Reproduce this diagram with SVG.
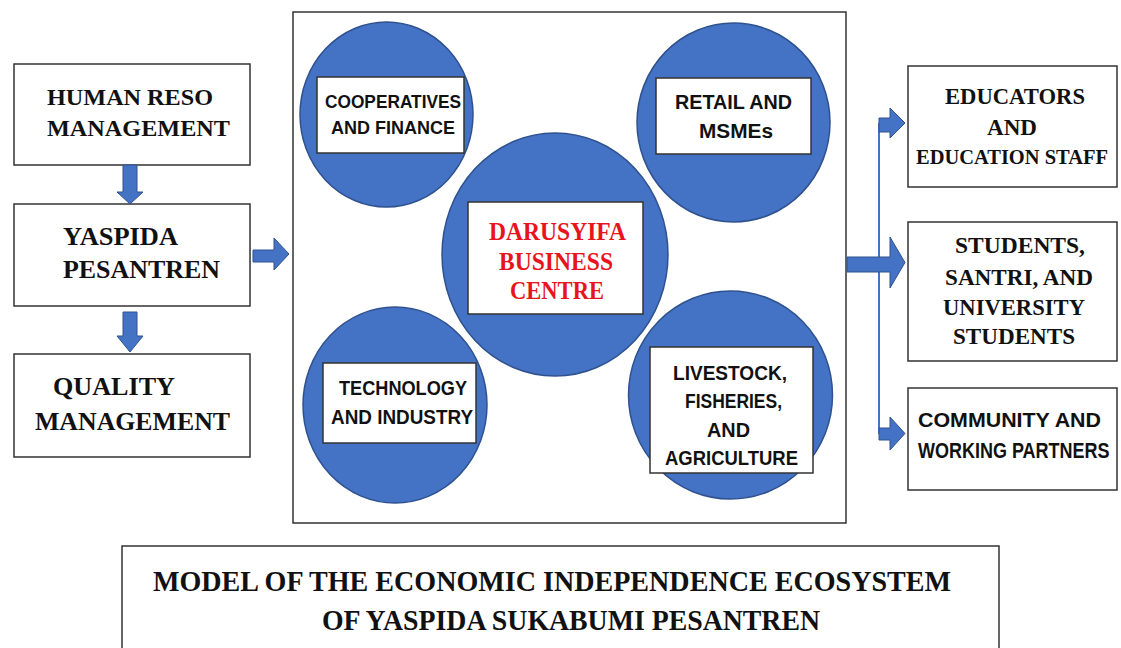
<svg xmlns="http://www.w3.org/2000/svg" width="1121" height="648" viewBox="0 0 1121 648">
<style>
.box{fill:#fff;stroke:#333;stroke-width:1.5}
.circ{fill:#4472C4;stroke:#2F528F;stroke-width:1.5}
.arr{fill:#4472C4;stroke:#2F528F;stroke-width:1}
.serif{font-family:"Liberation Serif","Times New Roman",serif;font-weight:bold;fill:#111}
.sans{font-family:"Liberation Sans",Arial,sans-serif;font-weight:bold;fill:#111}
.red{fill:#E8141B}
</style>
<rect width="1121" height="648" fill="#fff"/>

<g id="frame"><rect class="box" x="293" y="12" width="553" height="511"/></g>

<g id="hrm">
<rect class="box" x="14" y="64" width="236" height="101"/>
<text class="serif" font-size="24" x="47" y="105" textLength="166" lengthAdjust="spacingAndGlyphs">HUMAN RESO</text>
<text class="serif" font-size="24" x="47" y="136" textLength="183" lengthAdjust="spacingAndGlyphs">MANAGEMENT</text>
</g>
<g id="yaspida">
<rect class="box" x="14" y="204" width="236" height="102"/>
<text class="serif" font-size="26" x="63" y="245" textLength="115" lengthAdjust="spacingAndGlyphs">YASPIDA</text>
<text class="serif" font-size="26" x="63" y="278" textLength="157" lengthAdjust="spacingAndGlyphs">PESANTREN</text>
</g>
<g id="quality">
<rect class="box" x="14" y="354" width="236" height="103"/>
<text class="serif" font-size="26" x="53" y="395" textLength="122" lengthAdjust="spacingAndGlyphs">QUALITY</text>
<text class="serif" font-size="26" x="35" y="430" textLength="195" lengthAdjust="spacingAndGlyphs">MANAGEMENT</text>
</g>

<g id="coop">
<ellipse class="circ" cx="386.5" cy="114.5" rx="86.5" ry="92.5"/>
<rect class="box" x="317" y="77" width="147" height="76"/>
<text class="sans" font-size="19" x="325" y="108" textLength="136" lengthAdjust="spacingAndGlyphs">COOPERATIVES</text>
<text class="sans" font-size="19" x="331" y="134" textLength="124" lengthAdjust="spacingAndGlyphs">AND FINANCE</text>
</g>
<g id="retail">
<ellipse class="circ" cx="733.5" cy="122.5" rx="96.5" ry="99.5"/>
<rect class="box" x="656" y="78" width="155" height="76"/>
<text class="sans" font-size="20" x="675" y="109" textLength="117" lengthAdjust="spacingAndGlyphs">RETAIL AND</text>
<text class="sans" font-size="20" x="699" y="138" textLength="74" lengthAdjust="spacingAndGlyphs">MSMEs</text>
</g>
<g id="tech">
<ellipse class="circ" cx="395" cy="405" rx="92" ry="98"/>
<rect class="box" x="323" y="363" width="153" height="80"/>
<text class="sans" font-size="20" x="339" y="395" textLength="128" lengthAdjust="spacingAndGlyphs">TECHNOLOGY</text>
<text class="sans" font-size="20" x="331" y="424" textLength="142" lengthAdjust="spacingAndGlyphs">AND INDUSTRY</text>
</g>
<g id="livestock">
<ellipse class="circ" cx="730.5" cy="395" rx="102" ry="104"/>
<rect class="box" x="650" y="347" width="163" height="126"/>
<text class="sans" font-size="20" x="673" y="380" textLength="114" lengthAdjust="spacingAndGlyphs">LIVESTOCK,</text>
<text class="sans" font-size="20" x="685" y="408" textLength="97" lengthAdjust="spacingAndGlyphs">FISHERIES,</text>
<text class="sans" font-size="20" x="707" y="437" textLength="43" lengthAdjust="spacingAndGlyphs">AND</text>
<text class="sans" font-size="20" x="665" y="465" textLength="133" lengthAdjust="spacingAndGlyphs">AGRICULTURE</text>
</g>
<g id="darusyifa">
<ellipse class="circ" cx="555" cy="254.5" rx="113" ry="121.5"/>
<rect class="box" x="468" y="202" width="175" height="112"/>
<text class="serif red" font-size="26" x="489" y="240" textLength="137" lengthAdjust="spacingAndGlyphs">DARUSYIFA</text>
<text class="serif red" font-size="26" x="499" y="270" textLength="114" lengthAdjust="spacingAndGlyphs">BUSINESS</text>
<text class="serif red" font-size="26" x="510" y="299" textLength="94" lengthAdjust="spacingAndGlyphs">CENTRE</text>
</g>

<g id="educators">
<rect class="box" x="908" y="66" width="209" height="121"/>
<text class="serif" font-size="23" x="945" y="104" textLength="140" lengthAdjust="spacingAndGlyphs">EDUCATORS</text>
<text class="serif" font-size="23" x="987" y="135" textLength="50" lengthAdjust="spacingAndGlyphs">AND</text>
<text class="serif" font-size="22" x="916" y="164" textLength="192" lengthAdjust="spacingAndGlyphs">EDUCATION STAFF</text>
</g>
<g id="students">
<rect class="box" x="908" y="222" width="209" height="139"/>
<text class="serif" font-size="23" x="955" y="253" textLength="130" lengthAdjust="spacingAndGlyphs">STUDENTS,</text>
<text class="serif" font-size="23" x="945" y="285" textLength="148" lengthAdjust="spacingAndGlyphs">SANTRI, AND</text>
<text class="serif" font-size="23" x="943" y="315" textLength="142" lengthAdjust="spacingAndGlyphs">UNIVERSITY</text>
<text class="serif" font-size="23" x="953" y="344" textLength="122" lengthAdjust="spacingAndGlyphs">STUDENTS</text>
</g>
<g id="community">
<rect class="box" x="908" y="388" width="209" height="102"/>
<text class="sans" font-size="21" x="918" y="427" textLength="183" lengthAdjust="spacingAndGlyphs">COMMUNITY AND</text>
<text class="sans" font-size="18" transform="translate(918,458) scale(1,1.2)" x="0" y="0">WORKING PARTNERS</text>
</g>

<g id="title">
<rect class="box" x="122" y="546" width="877" height="120"/>
<text class="serif" font-size="30" x="153" y="591" textLength="798" lengthAdjust="spacingAndGlyphs">MODEL OF THE ECONOMIC INDEPENDENCE ECOSYSTEM</text>
<text class="serif" font-size="30" x="322" y="630" textLength="498" lengthAdjust="spacingAndGlyphs">OF YASPIDA SUKABUMI PESANTREN</text>
</g>

<g id="connectors">
<polygon class="arr" points="123,165 137,165 137,192 143,192 130,204 117,192 123,192"/>
<polygon class="arr" points="123,312 137,312 137,336 143,336 130,352 117,336 123,336"/>
<polygon class="arr" points="253,250 274,250 274,238 289,254 274,270 274,262 253,262"/>
<line x1="879" y1="123" x2="879" y2="434" stroke="#4472C4" stroke-width="2"/>
<polygon class="arr" points="847,257 890,257 890,237 905,262.5 890,288 890,272 847,272"/>
<polygon class="arr" points="879,118 890,118 890,108 905,123 890,138 890,132 879,132"/>
<polygon class="arr" points="879,428 890,428 890,417 905,433.5 890,450 890,440 879,440"/>
</g>
</svg>
